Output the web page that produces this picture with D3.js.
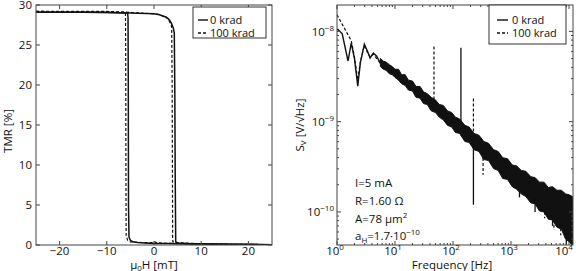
<!DOCTYPE html>
<html>
<head>
<meta charset="utf-8">
<script src="https://cdn.jsdelivr.net/npm/d3@7"></script>
<style>
  body { margin: 0; background: #fff; }
  svg { display: block; font-family: "Open Sans", sans-serif; font-size: 11.5px; }
</style>
</head>
<body>
<svg id="fig" width="576" height="271"></svg>
<script>
// ---- hysteresis loops (field in mT, TMR in %) ----
let field0Up = [-25, -15, -5, 0, 1, 2, 2.5, 3, 3.4, 3.7, 3.9, 4.1, 4.3, 4.4, 4.5, 4.6, 5, 8, 15, 25];
let tmr0Up   = [29.1, 29.1, 29.0, 28.9, 28.8, 28.6, 28.5, 28.3, 28.0, 27.7, 27.4, 27.1, 26.5, 20, 8, 0.4, 0.25, 0.15, 0.08, 0.03];
let field0Dn = [25, 15, 8, 3, 0, -2, -3.5, -4.5, -5.0, -5.3, -5.4, -5.45, -5.5, -5.6, -10, -25];
let tmr0Dn   = [0.03, 0.08, 0.12, 0.18, 0.2, 0.25, 0.3, 0.4, 0.6, 1.0, 5, 20, 28.4, 29.0, 29.1, 29.1];
let field1Up = [-25, -15, -6, 0, 1, 2, 2.5, 3, 3.3, 3.6, 3.75, 3.85, 3.9, 3.95, 4.0, 4.5, 8, 15, 25];
let tmr1Up   = [29.2, 29.15, 29.1, 28.9, 28.8, 28.6, 28.5, 28.2, 27.9, 27.6, 27.2, 20, 10, 1, 0.4, 0.3, 0.2, 0.1, 0.05];
let field1Dn = [25, 15, 8, 3, 0.5, 0, -0.5, -2, -4, -5, -5.6, -5.9, -5.95, -6.0, -6.05, -10, -25];
let tmr1Dn   = [0.05, 0.1, 0.15, 0.2, 0.3, 0.45, 0.3, 0.3, 0.35, 0.4, 0.6, 1.2, 10, 25, 29.1, 29.2, 29.2];

// ---- noise spectra (Hz, V/sqrt(Hz)) ----
// low frequency part, read point by point
let lowF0 = [1.0, 1.04, 1.23, 1.55, 1.76, 2.0, 2.28, 2.53, 2.96, 3.37, 3.72, 4.24, 4.83, 5.64];
let lowS0 = [1.05e-8, 1.05e-8, 9.4e-9, 4.7e-9, 7.4e-9, 5.0e-9, 2.47e-9, 4.5e-9, 7.2e-9, 6.0e-9, 5.07e-9, 5.76e-9, 5.3e-9, 4.4e-9];
let lowF1 = [1.0, 1.76, 2.0, 2.28, 2.53, 2.96, 3.37, 3.72, 4.24, 4.83, 5.64];
let lowS1 = [1.53e-8, 7.9e-9, 5.2e-9, 2.9e-9, 4.6e-9, 7.0e-9, 5.8e-9, 5.2e-9, 5.6e-9, 5.0e-9, 4.4e-9];
// noise band above 5 Hz (both curves overlap): edges given as log10 of S_V
let bandF = [5.6, 6.3, 7, 8, 9, 10, 11.5, 13, 15, 17, 20, 23, 27, 31, 36, 42, 50, 58, 68, 80, 95,
  110, 130, 160, 190, 230, 280, 340, 410, 500, 600, 720, 870, 1050, 1250, 1500, 1800, 2200, 2600,
  3100, 3700, 4400, 5200, 6200, 7400, 8700, 10000, 11500];
let bandUpperLog = [-8.30, -8.33, -8.34, -8.37, -8.39, -8.42, -8.42, -8.48, -8.48, -8.54, -8.55, -8.61,
  -8.61, -8.67, -8.69, -8.73, -8.76, -8.81, -8.82, -8.88, -8.90, -8.95, -8.97, -9.04, -9.06, -9.13,
  -9.15, -9.22, -9.24, -9.31, -9.33, -9.40, -9.41, -9.48, -9.49, -9.54, -9.55, -9.61, -9.62, -9.67,
  -9.67, -9.73, -9.72, -9.76, -9.76, -9.80, -9.81, -9.83];
let bandLowerLog = [-8.39, -8.42, -8.43, -8.47, -8.48, -8.51, -8.54, -8.58, -8.60, -8.65, -8.66, -8.73,
  -8.74, -8.80, -8.81, -8.88, -8.90, -8.95, -8.98, -9.04, -9.06, -9.12, -9.13, -9.22, -9.23, -9.31,
  -9.33, -9.42, -9.43, -9.52, -9.54, -9.63, -9.64, -9.72, -9.75, -9.80, -9.83, -9.90, -9.91, -9.99,
  -10.00, -10.08, -10.09, -10.17, -10.19, -10.30, -10.33, -10.37];
// spikes: [frequency, top, bottom]
let spikes0 = [[137, 6.6e-9, 8e-10], [225, 6.2e-10, 1.2e-10], [1400, 2.0e-10, 1.45e-10], [2600, 1.5e-10, 1.0e-10], [5200, 1.2e-10, 7.0e-11], [9000, 1.0e-10, 4.3e-11]];
let spikes1 = [[47, 6.8e-9, 1.4e-9], [225, 1.8e-9, 6.2e-10], [330, 4.5e-10, 2.58e-10], [3800, 1.3e-10, 8.5e-11], [5500, 1.2e-10, 6.3e-11], [7200, 1.1e-10, 5.5e-11]];

let legendLabels = ["0 krad", "100 krad"];
let tmrTicks = [0, 5, 10, 15, 20, 25, 30];
let fieldTicks = [-20, -10, 0, 10, 20];
let freqDecades = [0, 1, 2, 3, 4];
let svDecades = [-10, -9, -8];

let svg = d3.select("svg#fig");
let ink = "#111";
let frameCol = "#444";
let dashPattern = "3,2";

function pairs(a, b) { return a.map((v, i) => [v, b[i]]); }

// ================= left panel =================
let xH = d3.scaleLinear().domain([-25, 25]).range([36, 272]);
let yT = d3.scaleLinear().domain([0, 30]).range([245, 5]);

let left = svg.append("g");
svg.append("clipPath").attr("id", "clipL").append("rect")
  .attr("x", 36).attr("y", 5).attr("width", 236).attr("height", 240);

let lineH = d3.line().x(d => xH(d[0])).y(d => yT(d[1]));

let loops = left.append("g").attr("clip-path", "url(#clipL)");
[[field0Up, tmr0Up], [field0Dn, tmr0Dn]].forEach(p => {
  loops.append("path").attr("d", lineH(pairs(p[0], p[1])))
    .attr("fill", "none").attr("stroke", ink).attr("stroke-width", 1.5);
});
[[field1Up, tmr1Up], [field1Dn, tmr1Dn]].forEach(p => {
  loops.append("path").attr("d", lineH(pairs(p[0], p[1])))
    .attr("fill", "none").attr("stroke", ink).attr("stroke-width", 1.2)
    .attr("stroke-dasharray", dashPattern);
});

// frame + ticks
left.append("rect").attr("x", 36).attr("y", 5).attr("width", 236).attr("height", 240)
  .attr("fill", "none").attr("stroke", frameCol).attr("stroke-width", 1);
fieldTicks.forEach(t => {
  left.append("line").attr("x1", xH(t)).attr("x2", xH(t)).attr("y1", 245).attr("y2", 241).attr("stroke", frameCol);
  left.append("line").attr("x1", xH(t)).attr("x2", xH(t)).attr("y1", 5).attr("y2", 9).attr("stroke", frameCol);
  left.append("text").attr("x", xH(t)).attr("y", 255).attr("text-anchor", "middle")
    .attr("fill", ink).text(d3.format("d")(t));
});
tmrTicks.forEach(t => {
  left.append("line").attr("x1", 36).attr("x2", 40).attr("y1", yT(t)).attr("y2", yT(t)).attr("stroke", frameCol);
  left.append("line").attr("x1", 272).attr("x2", 268).attr("y1", yT(t)).attr("y2", yT(t)).attr("stroke", frameCol);
  left.append("text").attr("x", 32).attr("y", yT(t)).attr("dy", "0.38em").attr("text-anchor", "end")
    .attr("fill", ink).text(t);
});
let xl = left.append("text").attr("x", 154).attr("y", 268.5).attr("text-anchor", "middle").attr("fill", ink);
xl.append("tspan").text("μ");
xl.append("tspan").attr("font-size", "8px").attr("dy", 2).text("0");
xl.append("tspan").attr("dy", -2).text("H [mT]");
left.append("text").attr("transform", "translate(12,131) rotate(-90)").attr("text-anchor", "middle")
  .attr("fill", ink).text("TMR [%]");

// legend
function legend(g, x, y, w, h, lx1, lx2, tx, rows) {
  g.append("rect").attr("x", x).attr("y", y).attr("width", w).attr("height", h)
    .attr("fill", "#fff").attr("stroke", "#333");
  rows.forEach((r, i) => {
    g.append("line").attr("x1", lx1).attr("x2", lx2).attr("y1", r).attr("y2", r)
      .attr("stroke", ink).attr("stroke-width", 1.4)
      .attr("stroke-dasharray", i == 1 ? dashPattern : null);
    g.append("text").attr("x", tx).attr("y", r).attr("dy", "0.36em").attr("font-size", "11px")
      .attr("fill", ink).text(legendLabels[i]);
  });
}
legend(left, 193, 7, 73, 31, 198, 208, 210, [20, 33]);

// ================= right panel =================
let xF = d3.scaleLog().domain([1, 1e4]).range([337, 569]);
let yS = d3.scaleLog().domain([4.3e-11, 1.96e-8]).range([245, 5]);
let px0 = 337, px1 = 573;

let right = svg.append("g");
svg.append("clipPath").attr("id", "clipR").append("rect")
  .attr("x", px0).attr("y", 5).attr("width", px1 - px0).attr("height", 240);
let spec = right.append("g").attr("clip-path", "url(#clipR)");

let lineS = d3.line().x(d => xF(d[0])).y(d => yS(d[1]));
let band = d3.area().x(d => xF(d[0])).y0(d => yS(d[2])).y1(d => yS(d[1]));

spec.append("path")
  .attr("d", band(bandF.map((f, i) => [f, Math.pow(10, bandUpperLog[i]), Math.pow(10, bandLowerLog[i])])))
  .attr("fill", ink).attr("stroke", ink).attr("stroke-width", 1).attr("stroke-linejoin", "miter");
spec.append("path").attr("d", lineS(pairs(lowF1, lowS1)))
  .attr("fill", "none").attr("stroke", ink).attr("stroke-width", 1.2).attr("stroke-dasharray", dashPattern);
spec.append("path").attr("d", lineS(pairs(lowF0, lowS0)))
  .attr("fill", "none").attr("stroke", ink).attr("stroke-width", 1.4);
spikes0.forEach(s => {
  spec.append("line").attr("x1", xF(s[0])).attr("x2", xF(s[0])).attr("y1", yS(s[1])).attr("y2", yS(s[2]))
    .attr("stroke", ink).attr("stroke-width", 1.3);
});
spikes1.forEach(s => {
  spec.append("line").attr("x1", xF(s[0])).attr("x2", xF(s[0])).attr("y1", yS(s[1])).attr("y2", yS(s[2]))
    .attr("stroke", ink).attr("stroke-width", 1.2).attr("stroke-dasharray", dashPattern);
});

right.append("rect").attr("x", px0).attr("y", 5).attr("width", px1 - px0).attr("height", 240)
  .attr("fill", "none").attr("stroke", frameCol).attr("stroke-width", 1);

// log ticks
freqDecades.forEach(k => {
  let v = Math.pow(10, k);
  right.append("line").attr("x1", xF(v)).attr("x2", xF(v)).attr("y1", 245).attr("y2", 241).attr("stroke", frameCol);
  right.append("line").attr("x1", xF(v)).attr("x2", xF(v)).attr("y1", 5).attr("y2", 9).attr("stroke", frameCol);
  let t = right.append("text").attr("x", Math.min(xF(v) - 2, 564)).attr("y", 255).attr("text-anchor", "middle").attr("fill", ink);
  t.append("tspan").text("10");
  t.append("tspan").attr("font-size", "8px").attr("dy", -5).text(k);
  if (k < 4) {
    for (let m = 2; m < 10; m++) {
      let mx = xF(m * v);
      right.append("line").attr("x1", mx).attr("x2", mx).attr("y1", 245).attr("y2", 243).attr("stroke", frameCol);
      right.append("line").attr("x1", mx).attr("x2", mx).attr("y1", 5).attr("y2", 7).attr("stroke", frameCol);
    }
  }
});
[-11, -10, -9, -8].forEach(k => {
  let v = Math.pow(10, k);
  for (let m = 1; m < 10; m++) {
    let val = m * v;
    if (val < 4.3e-11 || val > 1.96e-8) continue;
    let len = m == 1 ? 4 : 2;
    right.append("line").attr("x1", px0).attr("x2", px0 + len).attr("y1", yS(val)).attr("y2", yS(val)).attr("stroke", frameCol);
    right.append("line").attr("x1", px1).attr("x2", px1 - len).attr("y1", yS(val)).attr("y2", yS(val)).attr("stroke", frameCol);
  }
});
svDecades.forEach(k => {
  let t = right.append("text").attr("x", 334).attr("y", yS(Math.pow(10, k))).attr("dy", "0.38em")
    .attr("text-anchor", "end").attr("fill", ink);
  t.append("tspan").text("10");
  t.append("tspan").attr("font-size", "8px").attr("dy", -5).text("−" + Math.abs(k));
});

right.append("text").attr("x", 452).attr("y", 268.5).attr("text-anchor", "middle").attr("fill", ink).text("Frequency [Hz]");
let yl = right.append("text").attr("transform", "translate(304,125) rotate(-90)").attr("text-anchor", "middle").attr("fill", ink);
yl.append("tspan").text("S");
yl.append("tspan").attr("font-size", "8px").attr("dy", 2).text("V");
yl.append("tspan").attr("dy", -2).text(" [V/√Hz]");

legend(right, 489, 5, 77, 39, 497, 508, 512, [20, 33]);

// annotation
let note = right.append("g").attr("fill", ink);
note.append("text").attr("x", 355).attr("y", 187).text("I=5 mA");
note.append("text").attr("x", 355).attr("y", 205).text("R=1.60 Ω");
let n3 = note.append("text").attr("x", 355).attr("y", 223);
n3.append("tspan").text("A=78 μm");
n3.append("tspan").attr("font-size", "8px").attr("dy", -5).text("2");
let n4 = note.append("text").attr("x", 355).attr("y", 240);
n4.append("tspan").text("a");
n4.append("tspan").attr("font-size", "8px").attr("dy", 3).text("H");
n4.append("tspan").attr("dy", -3).text("=1.7·10");
n4.append("tspan").attr("font-size", "8px").attr("dy", -5).text("−10");
</script>
</body>
</html>
